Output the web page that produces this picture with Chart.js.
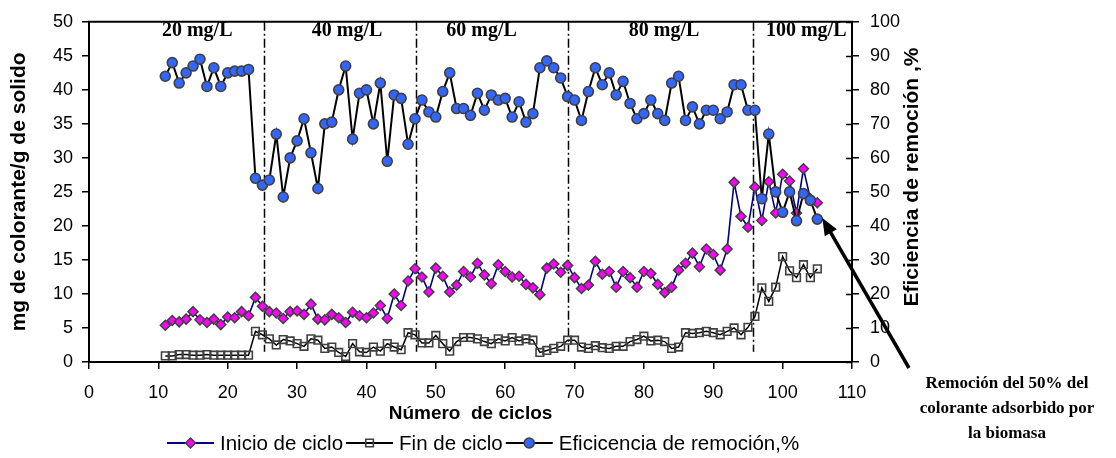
<!DOCTYPE html>
<html>
<head>
<meta charset="utf-8">
<script src="https://cdn.jsdelivr.net/npm/chart.js@4.4.1/dist/chart.umd.min.js"></script>
<style>
  html, body { margin: 0; padding: 0; background: #fff; }
</style>
</head>
<body>
<canvas id="grafico" width="1116" height="458"></canvas>
<script>
// ciclo number for every measurement
const ciclos = [
  11, 12, 13, 14, 15, 16, 17, 18, 19, 20, 21, 22, 23, 24, 25, 26, 27, 28, 29, 30,
  31, 32, 33, 34, 35, 36, 37, 38, 39, 40, 41, 42, 43, 44, 45, 46, 47, 48, 49, 50,
  51, 52, 53, 54, 55, 56, 57, 58, 59, 60, 61, 62, 63, 64, 65, 66, 67, 68, 69, 70,
  71, 72, 73, 74, 75, 76, 77, 78, 79, 80, 81, 82, 83, 84, 85, 86, 87, 88, 89, 90,
  91, 92, 93, 94, 95, 96, 97, 98, 99, 100, 101, 102, 103, 104, 105
];

// mg de colorante / g de solido
const inicioCiclo = [
  5.4, 6.1, 5.9, 6.3, 7.4, 6.2, 5.8, 6.3, 5.5, 6.6, 6.5, 7.4, 6.8, 9.5, 8.2, 7.4, 7.2, 6.4, 7.4, 7.5,
  7.0, 8.5, 6.3, 6.2, 7.0, 6.5, 5.8, 7.3, 6.8, 6.5, 7.2, 8.3, 6.4, 10.0, 8.3, 11.9, 13.7, 12.5, 10.3, 13.8,
  12.6, 10.3, 11.3, 13.3, 12.5, 14.5, 12.8, 11.5, 14.3, 13.3, 12.5, 12.6, 11.4, 10.9, 9.9, 13.8, 14.4, 13.2, 14.2, 12.4,
  10.8, 11.3, 14.8, 12.9, 13.3, 11.0, 13.3, 12.4, 11.0, 13.3, 13.0, 11.4, 10.2, 11.0, 13.5, 14.5, 16.0, 14.0, 16.6, 15.8,
  13.5, 16.6, 26.4, 21.4, 19.8, 25.7, 20.8, 26.5, 21.9, 27.6, 26.6, 21.9, 28.4, 24.0, 23.4
];

const finCiclo = [
  0.9, 0.9, 1.1, 1.1, 1.0, 1.0, 1.1, 1.0, 1.0, 1.0, 1.0, 1.0, 1.0, 4.5, 4.0, 3.4, 2.5, 3.3, 3.1, 2.7,
  2.3, 3.4, 3.2, 2.0, 2.2, 1.4, 0.8, 2.7, 1.5, 1.4, 2.2, 1.6, 2.7, 2.2, 1.8, 4.3, 4.0, 2.8, 2.8, 3.9,
  2.7, 1.6, 3.0, 3.6, 3.6, 3.4, 3.0, 2.7, 3.4, 3.1, 3.6, 3.1, 3.4, 3.2, 1.4, 1.7, 2.0, 2.3, 3.2, 3.2,
  2.2, 2.0, 2.4, 2.1, 2.0, 2.3, 2.3, 3.0, 3.3, 3.8, 3.1, 3.2, 3.0, 2.0, 2.2, 4.3, 4.2, 4.3, 4.5, 4.3,
  4.0, 4.5, 5.0, 4.0, 5.1, 6.7, 10.9, 8.9, 11.0, 15.5, 13.4, 12.4, 14.3, 12.4, 13.7
];

// % removal efficiency (right axis)
const eficiencia = [
  84, 88, 82, 85, 87, 89, 81, 86.5, 81, 85, 85.5, 85.5, 86, 54, 52, 53.5, 67, 48.5, 60, 65,
  71.5, 61.5, 51, 70, 70.5, 80, 87, 65.5, 79, 80, 70, 82, 59, 78.5, 77.5, 64, 71.5, 77, 73.5, 72,
  79.5, 85, 74.5, 74.5, 72.5, 79, 74, 78.5, 77, 77.5, 72, 76.5, 70.5, 73, 86.5, 88.5, 86.5, 83.5, 78, 77,
  71, 79.5, 86.5, 81.5, 85, 78.5, 82.5, 76, 71.5, 73, 77, 73, 71, 82, 84, 71, 75, 70, 74, 74,
  71.5, 73.5, 81.5, 81.5, 74, 74, 48, 67, 50, 44, 50, 41.5, 49.5, 47.5, 42
];

// where the concentration changes (ciclo)
const cambiosConcentracion = [25.2, 47.1, 69.1, 95.7];
const concentraciones = ["20 mg/L", "40 mg/L", "60 mg/L", "80 mg/L", "100 mg/L"];

const xTicks = [0, 10, 20, 30, 40, 50, 60, 70, 80, 90, 100, 110];

const SANS = "'Liberation Sans', Arial, sans-serif";
const SERIF = "'Liberation Serif', 'Times New Roman', serif";

const toPoints = (ys) => ciclos.map((c, i) => ({ x: c, y: ys[i] }));

const datasets = [
  {
    label: "Inicio de ciclo",
    data: toPoints(inicioCiclo),
    yAxisID: "y",
    borderColor: "#000080",
    borderWidth: 1.6,
    pointStyle: "rectRot",
    pointRadius: 5,
    pointBackgroundColor: "#ff00ff",
    pointBorderColor: "#404040",
    pointBorderWidth: 1.5,
    order: 1,
  },
  {
    label: "Fin de ciclo",
    data: toPoints(finCiclo),
    yAxisID: "y",
    borderColor: "#000000",
    borderWidth: 1.5,
    pointStyle: "rect",
    pointRadius: 5.4,
    pointBackgroundColor: "rgba(255,255,255,0)",
    pointBorderColor: "#404040",
    pointBorderWidth: 1.6,
    order: 2,
  },
  {
    label: "Eficicencia de remoción,%",
    data: toPoints(eficiencia),
    yAxisID: "yR",
    borderColor: "#000000",
    borderWidth: 2,
    pointStyle: "circle",
    pointRadius: 5,
    pointBackgroundColor: "#3366ff",
    pointBorderColor: "#404040",
    pointBorderWidth: 1.6,
    order: 0,
  },
];

const extras = {
  id: "extras",
  beforeDatasetsDraw(chart) {
    const { ctx, chartArea, scales } = chart;
    ctx.save();
    ctx.strokeStyle = "#000";
    ctx.lineWidth = 1.5;
    ctx.setLineDash([9, 3, 2, 3]);
    const yEnd = scales.y.getPixelForValue(1.5);
    cambiosConcentracion.forEach((c) => {
      const px = Math.round(scales.x.getPixelForValue(c)) + 0.5;
      ctx.beginPath();
      ctx.moveTo(px, chartArea.top);
      ctx.lineTo(px, yEnd);
      ctx.stroke();
    });
    ctx.restore();
  },
  afterDraw(chart) {
    const { ctx, chartArea, scales } = chart;
    ctx.save();

    // top frame line
    ctx.strokeStyle = "#000";
    ctx.lineWidth = 2;
    ctx.beginPath();
    ctx.moveTo(chartArea.left - 1, chartArea.top);
    ctx.lineTo(chartArea.right + 1, chartArea.top);
    ctx.stroke();

    // right axis ticks cross the axis line
    ctx.lineWidth = 1.5;
    scales.yR.ticks.forEach((t) => {
      const py = Math.round(scales.yR.getPixelForValue(t.value)) + 0.5;
      ctx.beginPath();
      ctx.moveTo(chartArea.right - 6, py);
      ctx.lineTo(chartArea.right, py);
      ctx.stroke();
    });

    // concentration labels
    const labelAt = [15.6, 37.2, 56.6, 82.9, 103.4];
    ctx.fillStyle = "#000";
    ctx.font = "bold 20px " + SERIF;
    ctx.textAlign = "center";
    ctx.textBaseline = "middle";
    concentraciones.forEach((t, i) => {
      ctx.fillText(t, scales.x.getPixelForValue(labelAt[i]), 31);
    });

    // right axis title, reading upwards
    ctx.save();
    ctx.translate(912, 177);
    ctx.rotate(-Math.PI / 2);
    ctx.font = "bold 21px " + SANS;
    ctx.fillText("Eficiencia de remoción ,%", 0, 0);
    ctx.restore();

    // arrow to the last efficiency point
    const tipX = scales.x.getPixelForValue(105) + 5;
    const tipY = scales.yR.getPixelForValue(42) - 1;
    const tailX = 909, tailY = 368;
    const ang = Math.atan2(tipY - tailY, tipX - tailX);
    const head = 17, half = 7;
    ctx.lineWidth = 3.5;
    ctx.beginPath();
    ctx.moveTo(tailX, tailY);
    ctx.lineTo(tipX - Math.cos(ang) * head * 0.8, tipY - Math.sin(ang) * head * 0.8);
    ctx.stroke();
    ctx.beginPath();
    ctx.moveTo(tipX, tipY);
    ctx.lineTo(tipX - Math.cos(ang) * head + Math.sin(ang) * half, tipY - Math.sin(ang) * head - Math.cos(ang) * half);
    ctx.lineTo(tipX - Math.cos(ang) * head - Math.sin(ang) * half, tipY - Math.sin(ang) * head + Math.cos(ang) * half);
    ctx.closePath();
    ctx.fill();

    // note under the arrow
    ctx.font = "bold 17px " + SERIF;
    ctx.fillText("Remoción del 50% del", 1007, 384);
    ctx.fillText("colorante adsorbido por", 1007, 409);
    ctx.fillText("la biomasa", 1007, 434);

    // legend: line with marker, then text
    ctx.font = "20.5px " + SANS;
    ctx.textAlign = "left";
    let lx = 167;
    const ly = 443;
    datasets.forEach((ds) => {
      ctx.strokeStyle = ds.borderColor;
      ctx.lineWidth = 2;
      ctx.beginPath();
      ctx.moveTo(lx, ly);
      ctx.lineTo(lx + 47, ly);
      ctx.stroke();
      ctx.fillStyle = ds.pointBackgroundColor;
      ctx.strokeStyle = ds.pointBorderColor;
      ctx.lineWidth = ds.pointBorderWidth;
      Chart.helpers.drawPoint(ctx, {
        pointStyle: ds.pointStyle,
        radius: ds.pointRadius,
        borderWidth: ds.pointBorderWidth,
        rotation: 0,
      }, lx + 23.5, ly);
      lx += 47 + 6;
      ctx.fillStyle = "#000";
      ctx.fillText(ds.label, lx, ly + 1);
      lx += ctx.measureText(ds.label).width + 3;
    });

    ctx.restore();
  },
};

Chart.defaults.color = "#000";
Chart.defaults.font.family = SANS;

new Chart(document.getElementById("grafico"), {
  type: "line",
  data: { datasets },
  options: {
    responsive: false,
    animation: false,
    layout: { padding: { top: 17, right: 184, bottom: 28, left: 0 } },
    plugins: { legend: { display: false }, tooltip: { enabled: false } },
    elements: { line: { tension: 0 } },
    scales: {
      x: {
        type: "linear",
        min: 0,
        max: 110,
        afterBuildTicks: (s) => { s.ticks = xTicks.map((v) => ({ value: v })); },
        afterFit: (s) => { s.height = 68; },
        ticks: { font: { size: 18 }, padding: 13, maxRotation: 0 },
        grid: { drawOnChartArea: false, tickLength: 7, lineWidth: 1.5, color: "#000" },
        border: { color: "#000", width: 2 },
        title: {
          display: true,
          text: "Número  de ciclos",
          font: { size: 19, weight: "bold" },
          padding: { top: 4, bottom: 5 },
        },
      },
      y: {
        position: "left",
        min: 0,
        max: 50,
        afterFit: (s) => { s.width = 89; },
        ticks: { stepSize: 5, font: { size: 18 }, padding: 9 },
        grid: { drawOnChartArea: false, tickLength: 7, lineWidth: 1.5, color: "#000" },
        border: { color: "#000", width: 2 },
        title: {
          display: true,
          text: "mg de colorante/g de solido",
          font: { size: 21, weight: "bold" },
          padding: { top: 7, bottom: 0 },
        },
      },
      yR: {
        position: "right",
        min: 0,
        max: 100,
        afterFit: (s) => { s.width = 80; },
        ticks: { stepSize: 10, font: { size: 18 }, padding: 11 },
        grid: { drawOnChartArea: false, tickLength: 7, lineWidth: 1.5, color: "#000" },
        border: { color: "#000", width: 2 },
      },
    },
  },
  plugins: [extras],
});
</script>
</body>
</html>
